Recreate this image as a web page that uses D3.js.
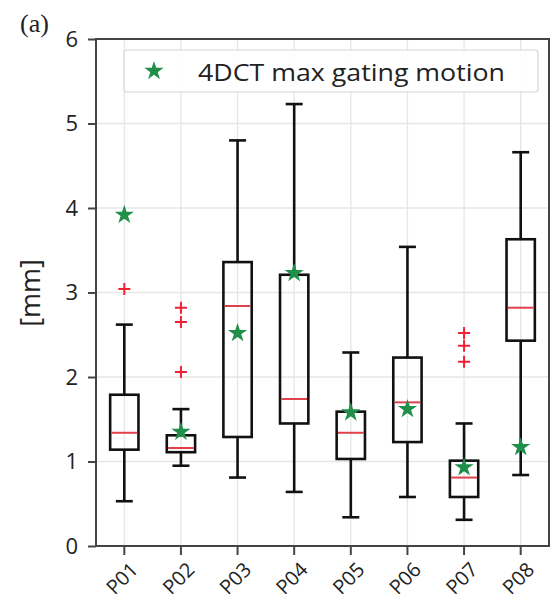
<!DOCTYPE html>
<html>
<head>
<meta charset="utf-8">
<script src="https://cdn.jsdelivr.net/npm/d3@7"></script>
<style>
  html, body { margin: 0; padding: 0; background: #fff; }
  svg { display: block; }
</style>
</head>
<body>
<svg id="chart" width="552" height="599"></svg>
<script>
// Patients on the x axis
const categories = ["P01", "P02", "P03", "P04", "P05", "P06", "P07", "P08"];
// Box-plot statistics per patient [mm]
const whiskerLow  = [0.53, 0.95, 0.81, 0.64, 0.34, 0.58, 0.31, 0.84];
const q1          = [1.14, 1.11, 1.29, 1.45, 1.03, 1.23, 0.58, 2.43];
const medians     = [1.34, 1.16, 2.84, 1.74, 1.34, 1.70, 0.81, 2.82];
const q3          = [1.79, 1.31, 3.36, 3.21, 1.59, 2.23, 1.01, 3.63];
const whiskerHigh = [2.62, 1.62, 4.80, 5.23, 2.29, 3.54, 1.45, 4.66];
// Outliers ("+") per patient
const outliers = [[3.04], [2.82, 2.65, 2.06], [], [], [], [], [2.52, 2.37, 2.18], []];
// 4DCT max gating motion (stars)
const gatingMotion = [3.92, 1.35, 2.52, 3.23, 1.58, 1.62, 0.93, 1.17];
const yTicks = [0, 1, 2, 3, 4, 5, 6];

const svg = d3.select("#chart");
const plotLeft = 96, plotRight = 549, plotTop = 39, plotBottom = 546;
const sans = "'Open Sans', sans-serif";

const x = d3.scaleBand().domain(categories).range([plotLeft, plotRight]).paddingInner(0).paddingOuter(0);
const y = d3.scaleLinear().domain([0, 6]).range([plotBottom, plotTop]);
const cx = d => x(d) + x.bandwidth() / 2;
const boxW = x.bandwidth() * 0.5;
const capW = x.bandwidth() * 0.3;

// grid
const grid = svg.append("g").attr("stroke", "#e6e6e6").attr("stroke-width", 1.3);
yTicks.forEach(t => grid.append("line").attr("x1", plotLeft).attr("x2", plotRight).attr("y1", y(t)).attr("y2", y(t)));
categories.forEach(c => grid.append("line").attr("x1", cx(c)).attr("x2", cx(c)).attr("y1", plotTop).attr("y2", plotBottom));

// axes
const yAxis = svg.append("g").attr("transform", `translate(${plotLeft},0)`)
  .call(d3.axisLeft(y).tickValues(yTicks).tickFormat(d3.format("d")).tickSize(8).tickPadding(10));
const xAxis = svg.append("g").attr("transform", `translate(0,${plotBottom})`)
  .call(d3.axisBottom(x).tickSize(9));
[yAxis, xAxis].forEach(a => {
  a.select(".domain").remove();
  a.selectAll(".tick line").attr("stroke", "#444").attr("stroke-width", 2);
  a.selectAll("text").attr("fill", "#222").style("font-family", sans).style("font-size", "22px");
});
xAxis.selectAll("text")
  .style("font-size", "20px")
  .attr("text-anchor", "end")
  .attr("x", 0).attr("y", 0).attr("dy", 0)
  .attr("transform", "translate(15,25) rotate(-45)");

// plot frame
svg.append("rect").attr("x", plotLeft).attr("y", plotTop).attr("width", plotRight - plotLeft).attr("height", plotBottom - plotTop)
  .attr("fill", "none").attr("stroke", "#444").attr("stroke-width", 2);

// box plots
const boxes = svg.append("g");
categories.forEach((c, i) => {
  const g = boxes.append("g").attr("stroke", "#111").attr("stroke-width", 2.6).attr("fill", "none");
  const xc = cx(c);
  g.append("line").attr("x1", xc).attr("x2", xc).attr("y1", y(whiskerHigh[i])).attr("y2", y(q3[i]));
  g.append("line").attr("x1", xc).attr("x2", xc).attr("y1", y(q1[i])).attr("y2", y(whiskerLow[i]));
  g.append("line").attr("x1", xc - capW / 2).attr("x2", xc + capW / 2).attr("y1", y(whiskerHigh[i])).attr("y2", y(whiskerHigh[i]));
  g.append("line").attr("x1", xc - capW / 2).attr("x2", xc + capW / 2).attr("y1", y(whiskerLow[i])).attr("y2", y(whiskerLow[i]));
  g.append("rect").attr("x", xc - boxW / 2).attr("width", boxW)
    .attr("y", y(q3[i])).attr("height", y(q1[i]) - y(q3[i]));
  g.append("line").attr("x1", xc - boxW / 2 + 1.3).attr("x2", xc + boxW / 2 - 1.3)
    .attr("y1", y(medians[i])).attr("y2", y(medians[i]))
    .attr("stroke", "#e0404a").attr("stroke-width", 2);
  outliers[i].forEach(v => {
    const s = 6;
    boxes.append("path")
      .attr("d", `M${xc - s},${y(v)}H${xc + s}M${xc},${y(v) - s}V${y(v) + s}`)
      .attr("stroke", "#ee2233").attr("stroke-width", 2).attr("fill", "none");
  });
});

// stars
const star = d3.symbol().type(d3.symbolStar).size(115);
svg.append("g").selectAll("path").data(categories).join("path")
  .attr("d", star)
  .attr("transform", (c, i) => `translate(${cx(c)},${y(gatingMotion[i])})`)
  .attr("fill", "#1f8f4a");

// legend
const legend = svg.append("g");
legend.append("rect").attr("x", 124).attr("y", 50).attr("width", 414).attr("height", 42)
  .attr("rx", 3).attr("fill", "#fff").attr("fill-opacity", 0.9).attr("stroke", "#d6d6d6").attr("stroke-width", 1.2);
legend.append("path").attr("d", star).attr("transform", "translate(154,71)").attr("fill", "#1f8f4a");
legend.append("text").attr("x", 198).attr("y", 81)
  .attr("textLength", 307).attr("lengthAdjust", "spacingAndGlyphs")
  .style("font-family", sans).style("font-size", "24px").attr("fill", "#222")
  .text("4DCT max gating motion");

// y label
svg.append("text").attr("transform", "translate(40,293) rotate(-90)")
  .attr("text-anchor", "middle")
  .style("font-family", sans).style("font-size", "27px").attr("fill", "#222")
  .text("[mm]");

// panel tag
svg.append("text").attr("x", 20).attr("y", 32)
  .style("font-family", "'Liberation Serif', serif").style("font-size", "26px").attr("fill", "#222")
  .text("(a)");
</script>
</body>
</html>
